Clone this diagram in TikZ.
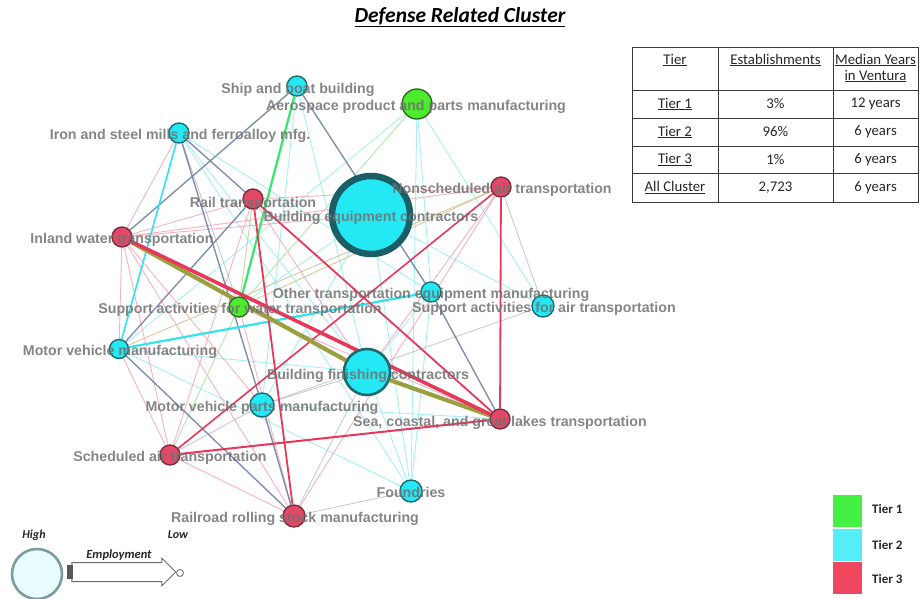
\documentclass[tikz,border=0pt]{standalone}
\usepackage{fontspec}
\setmainfont{Carlito}
\newfontfamily\labfont{Liberation Sans}
\usetikzlibrary{shapes.arrows}

\definecolor{cyfill}{HTML}{25E8F5}
\definecolor{cyline}{HTML}{1D6A70}
\definecolor{rdfill}{HTML}{E24868}
\definecolor{rdline}{HTML}{7A2E3C}
\definecolor{gnfill}{HTML}{4DEB2E}
\definecolor{gnline}{HTML}{2E6B22}
\definecolor{labgray}{HTML}{707070}
\definecolor{edgered}{HTML}{E8375A}
\definecolor{edgeslate}{HTML}{7482A4}
\definecolor{edgecyan}{HTML}{2EE4EE}
\definecolor{edgegreen}{HTML}{33E86A}
\definecolor{edgeolive}{HTML}{9AA040}
\definecolor{ltcyan}{HTML}{98ECF0}
\definecolor{ltpink}{HTML}{F2A0B2}
\definecolor{ltgray}{HTML}{BCBAC8}
\definecolor{lttan}{HTML}{D6C9A2}
\definecolor{ltgreen}{HTML}{B4E6AE}
\definecolor{keygreen}{HTML}{44F044}
\definecolor{keycyan}{HTML}{55EEF8}
\definecolor{keyred}{HTML}{F0475E}
\definecolor{tabline}{HTML}{3A3A3A}
\definecolor{keyring}{HTML}{7E9C9C}
\definecolor{keyfill}{HTML}{E8FCFF}

\pgfdeclarelayer{edges}
\pgfsetlayers{edges,main}

\begin{document}
\begin{tikzpicture}[x=1pt,y=-1pt,
  every node/.style={inner sep=0pt},
  tierone/.style={circle, minimum size=#1, fill=gnfill, draw=gnline, line width=1.4pt},
  tiertwo/.style={circle, minimum size=#1, fill=cyfill, draw=cyline, line width=1.4pt},
  tierthree/.style={circle, minimum size=#1, fill=rdfill, draw=rdline, line width=1.4pt},
  lbl/.style={font=\labfont\bfseries\fontsize{14.2}{16}\selectfont, text=labgray, text opacity=0.85},
  heavyred/.style={draw=edgered, line width=#1},
  slate/.style={draw=edgeslate, line width=1.4pt, draw opacity=0.9},
  faintcyan/.style={draw=ltcyan, line width=0.9pt, draw opacity=0.85},
  faintpink/.style={draw=ltpink, line width=0.9pt, draw opacity=0.8},
  faintgray/.style={draw=ltgray, line width=0.8pt, draw opacity=0.85},
  fainttan/.style={draw=lttan, line width=0.9pt},
  faintgreen/.style={draw=ltgreen, line width=0.9pt},
  tabtext/.style={font=\fontsize{14.8}{16}\selectfont, text=black!85},
  keytext/.style={font=\bfseries\fontsize{13}{15}\selectfont, text=black!85, anchor=west},
  keyword/.style={font=\bfseries\itshape\fontsize{12}{14}\selectfont, text=black!85}
]
\useasboundingbox (0,0) rectangle (921,598);

% ---------- title ----------
\node[font=\bfseries\itshape\fontsize{21.5}{24}\selectfont] (title) at (460,17) {\underline{Defense Related Cluster}};

% ---------- industry nodes ----------
\node[tiertwo=20]   (ship)      at (297,86)  {};
\node[tierone=30]   (aero)      at (417,104) {};
\node[tiertwo=20]   (iron)      at (179,133) {};
\node[tierthree=20] (rail)      at (253,199) {};
\node[tierthree=20] (nonsch)    at (501,187) {};
\node[tierthree=20] (inland)    at (122,237) {};
\node[tiertwo=20]   (othertr)   at (431,292) {};
\node[tiertwo=22]   (suppair)   at (543,306) {};
\node[tierone=20]   (suppwater) at (239,307) {};
\node[tiertwo=19]   (mvm)       at (119,349) {};
\node[tiertwo=46, line width=2.6pt] (bfc) at (367,372) {};
\node[tiertwo=24]   (mvparts)   at (262,405) {};
\node[tierthree=20] (sea)       at (500,419) {};
\node[tierthree=20] (sched)     at (170,455) {};
\node[tiertwo=22]   (foundries) at (411,491) {};
\node[tierthree=22] (railroad)  at (294,516) {};
\node[tiertwo=78, line width=6.5pt, draw=cyline!90!black] (bec) at (371,215) {};

% ---------- connectors, kept behind the nodes ----------
\begin{pgfonlayer}{edges}
  % faint links
  \draw[faintcyan] (aero) -- (othertr);
  \draw[faintcyan] (aero) -- (suppair);
  \draw[faintcyan] (aero) -- (mvm);
  \draw[faintcyan] (aero) -- (foundries);
  \draw[faintcyan] (ship) -- (bfc);
  \draw[faintcyan] (ship) -- (mvparts);
  \draw[faintcyan] (iron) -- (bfc);
  \draw[faintcyan] (iron) -- (othertr);
  \draw[faintcyan] (iron) -- (foundries);
  \draw[faintcyan] (mvm) -- (foundries);
  \draw[faintcyan] (mvm) -- (bfc);
  \draw[faintcyan] (othertr) -- (foundries);
  \draw[faintcyan] (othertr) -- (bfc);
  \draw[faintcyan] (bfc) -- (foundries);
  \draw[faintcyan] (bec) -- (suppair);
  \draw[faintcyan] (bec) -- (foundries);
  \draw[faintcyan] (bec) -- (mvparts);
  \draw[faintcyan] (suppwater) -- (bec);
  \draw[faintcyan] (mvparts) -- (sea);
  \draw[faintpink] (nonsch) -- (inland);
  \draw[faintpink] (nonsch) -- (railroad);
  \draw[faintpink] (nonsch) -- (bfc);
  \draw[faintpink] (inland) -- (sched);
  \draw[faintpink] (inland) -- (rail);
  \draw[faintpink] (inland) -- (bec);
  \draw[faintpink] (inland) -- (railroad);
  \draw[faintpink] (inland) -- (mvparts);
  \draw[faintpink] (inland) -- (mvm);
  \draw[faintpink] (inland) -- (iron);
  \draw[faintpink] (rail) -- (sched);
  \draw[faintpink] (rail) -- (nonsch);
  \draw[faintpink] (rail) -- (bfc);
  \draw[faintpink] (sched) -- (railroad);
  \draw[faintpink] (sched) -- (mvm);
  \draw[faintpink] (suppwater) -- (railroad);
  \draw[faintpink] (suppwater) -- (sea);
  \draw[faintgray] (suppair) -- (mvparts);
  \draw[faintgray] (nonsch) -- (suppair);
  \draw[faintgray] (railroad) -- (bfc);
  \draw[faintgray] (railroad) -- (foundries);
  \draw[faintgray] (mvparts) -- (sched);
  \draw[faintgray] (iron) -- (suppwater);
  \draw[faintgray] (mvparts) -- (bfc);
  \draw[fainttan] (rail) -- (suppwater);
  \draw[fainttan] (nonsch) -- (suppwater);
  \draw[fainttan] (mvm) -- (nonsch);
  \draw[faintgreen] (suppwater) -- (sched);
  \draw[faintgreen] (aero) -- (suppwater);
  % stronger links
  \draw[slate] (ship) -- (inland);
  \draw[slate] (ship) -- (othertr);
  \draw[slate] (othertr) -- (sea);
  \draw[slate] (iron) -- (rail);
  \draw[slate] (iron) -- (mvparts);
  \draw[slate] (rail) -- (mvm);
  \draw[slate] (mvm) -- (railroad);
  \draw[slate] (mvparts) -- (railroad);
  \draw[draw=edgecyan, line width=1.6pt] (iron) -- (mvm);
  \draw[draw=edgecyan, line width=2.2pt] (mvm) -- (othertr);
  \draw[draw=edgegreen, line width=2.2pt] (ship) -- (suppwater);
  \draw[heavyred=1.8pt] (rail) -- (sea);
  \draw[heavyred=1.8pt] (rail) -- (railroad);
  \draw[heavyred=1.8pt] (nonsch) -- (sea);
  \draw[heavyred=1.6pt] (nonsch) -- (sched);
  \draw[heavyred=2.0pt] (sched) -- (sea);
  \draw[draw=edgeolive, line width=4.2pt] (inland) -- (bfc);
  \draw[draw=edgeolive, line width=4.2pt] (bfc) -- (sea);
  \draw[heavyred=3.6pt] (inland) -- (sea);
\end{pgfonlayer}

% ---------- industry labels ----------
\node[lbl] (ship-l)      at (298,90)  {Ship and boat building};
\node[lbl] (aero-l)      at (416,107) {Aerospace product and parts manufacturing};
\node[lbl] (iron-l)      at (180,136) {Iron and steel mills and ferroalloy mfg.};
\node[lbl] (rail-l)      at (253,204) {Rail transportation};
\node[lbl] (bec-l)       at (371,218) {Building equipment contractors};
\node[lbl] (nonsch-l)    at (502,190) {Nonscheduled air transportation};
\node[lbl] (inland-l)    at (122,240) {Inland water transportation};
\node[lbl] (othertr-l)   at (431,295) {Other transportation equipment manufacturing};
\node[lbl] (suppair-l)   at (544,309) {Support activities for air transportation};
\node[lbl] (suppwater-l) at (240,310) {Support activities for water transportation};
\node[lbl] (mvm-l)       at (120,352) {Motor vehicle manufacturing};
\node[lbl] (bfc-l)       at (368,376) {Building finishing contractors};
\node[lbl] (mvparts-l)   at (262,408) {Motor vehicle parts manufacturing};
\node[lbl] (sea-l)       at (500,423) {Sea, coastal, and great lakes transportation};
\node[lbl] (sched-l)     at (170,458) {Scheduled air transportation};
\node[lbl] (foundries-l) at (411,492) {Foundries};
\node[lbl] (railroad-l)  at (295,519) {Railroad rolling stock manufacturing};

% ---------- summary table ----------
\draw[tabline, line width=0.9pt] (632,47) rectangle (918,202);
\foreach \yy in {90,118,146,173}
  \draw[tabline, line width=0.9pt] (632,\yy) -- (918,\yy);
\draw[tabline, line width=0.9pt] (718,47) -- (718,202);
\draw[tabline, line width=0.9pt] (833,47) -- (833,202);
\node[tabtext] (h1) at (675,60) {\underline{Tier}};
\node[tabtext] (h2) at (775.5,60) {\underline{Establishments}};
\node[tabtext, align=center] (h3) at (875.5,68) {\underline{Median Years}\\[0pt]\underline{in Ventura}};
\node[tabtext] (r1a) at (675,104) {\underline{Tier 1}};
\node[tabtext] (r1b) at (775.5,104) {3\%};
\node[tabtext] (r1c) at (875.5,104) {12 years};
\node[tabtext] (r2a) at (675,132) {\underline{Tier 2}};
\node[tabtext] (r2b) at (775.5,132) {96\%};
\node[tabtext] (r2c) at (875.5,132) {6 years};
\node[tabtext] (r3a) at (675,159.5) {\underline{Tier 3}};
\node[tabtext] (r3b) at (775.5,159.5) {1\%};
\node[tabtext] (r3c) at (875.5,159.5) {6 years};
\node[tabtext] (r4a) at (675,187.5) {\underline{All Cluster}};
\node[tabtext] (r4b) at (775.5,187.5) {2,723};
\node[tabtext] (r4c) at (875.5,187.5) {6 years};

% ---------- employment key ----------
\node[circle, minimum size=50, fill=keyfill, draw=keyring, line width=2.6pt] (bigc) at (37,574) {};
\node[circle, minimum size=7, fill=white, draw=gray, line width=1pt] (smallc) at (180,573) {};
\node[keyword] (high) at (34,535) {High};
\node[keyword] (low) at (178,535) {Low};
\node[single arrow, draw=gray!85!black, fill=white, line width=1pt,
      minimum height=104pt, inner ysep=9pt, inner xsep=0pt,
      single arrow head extend=4.5pt] (emparrow) at (119,572) {};
\node[fill=gray!70!black, minimum width=6pt, minimum height=14pt] (arrowtail) at (70,572) {};
\node[keyword, font=\bfseries\itshape\fontsize{12.5}{14}\selectfont] (emp) at (119,555) {Employment};

% ---------- tier key ----------
\node[fill=keygreen, minimum width=29pt, minimum height=32pt] (k1) at (847.5,511) {};
\node[fill=keycyan,  minimum width=29pt, minimum height=32pt] (k2) at (847.5,545) {};
\node[fill=keyred,   minimum width=29pt, minimum height=32pt] (k3) at (847.5,578) {};
\node[keytext] (k1-l) at (872,509) {Tier 1};
\node[keytext] (k2-l) at (872,545) {Tier 2};
\node[keytext] (k3-l) at (872,579) {Tier 3};
\end{tikzpicture}
\end{document}
